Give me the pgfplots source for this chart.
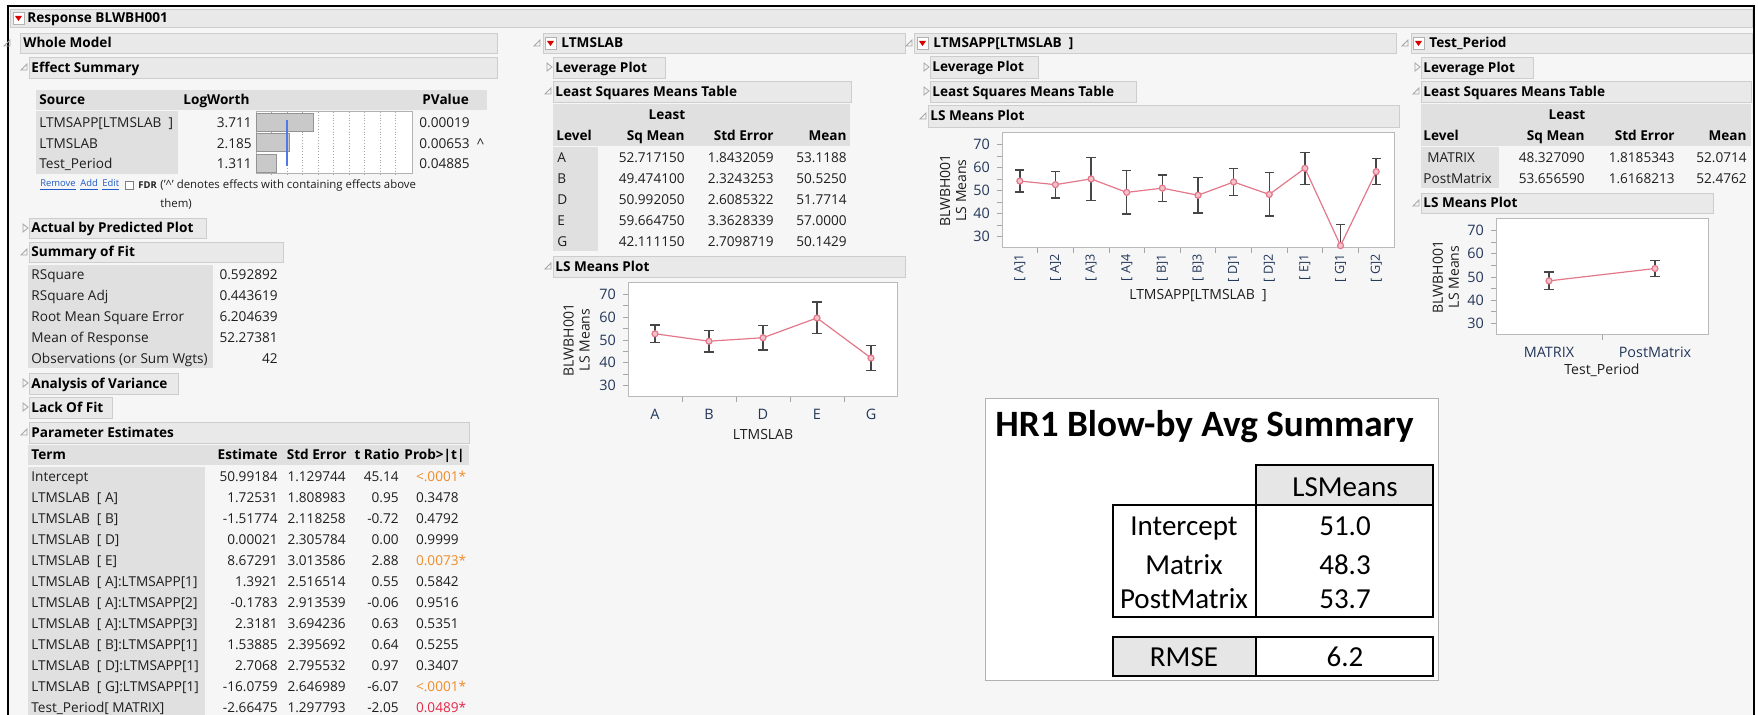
\documentclass[border=0pt]{standalone}
\usepackage{pgfplots}
\pgfplotsset{compat=1.18}
\usepackage{fontspec}
\setmainfont{Open Sans}
\newfontfamily\calibri{Carlito}
\definecolor{bgc}{RGB}{246,246,246}
\definecolor{barfill}{RGB}{233,233,233}
\definecolor{barline}{RGB}{205,205,205}
\definecolor{cellc}{RGB}{224,224,224}
\definecolor{txtc}{RGB}{30,30,30}
\definecolor{navy}{RGB}{35,55,90}
\definecolor{pinkl}{RGB}{228,120,138}
\definecolor{errc}{RGB}{70,70,70}
\definecolor{pvorange}{RGB}{240,140,40}
\definecolor{pvred}{RGB}{230,40,70}
\definecolor{linkblue}{RGB}{30,90,200}
\definecolor{xlgray}{RGB}{231,230,230}
\newcommand\bt{\fontsize{6.8}{8}\selectfont}
\newcommand\st{\fontsize{4.7}{6}\selectfont}
\newcommand\PVo[1]{\textcolor{pvorange}{#1}\rlap{\textcolor{pvorange}{*}}}
\newcommand\PVr[1]{\textcolor{pvred}{#1}\rlap{\textcolor{pvred}{*}}}
\newcommand\redicon[2]{\draw[gray!60, fill=white] (#1,#2-6) rectangle (#1+11,#2+6); \fill[red!85!black] (#1+2,#2-2) -- (#1+9,#2-2) -- (#1+5.5,#2+3) -- cycle;}
\newcommand\otri[2]{\draw[gray!70] (#1+6,#2-3) -- (#1+6,#2+3) -- (#1,#2+3) -- cycle;}
\newcommand\ctri[2]{\draw[gray!70] (#1,#2-4) -- (#1+5,#2) -- (#1,#2+4) -- cycle;}
\newcommand\secbar[6]{\draw[barline, fill=barfill] (#1,#2) rectangle (#3,#4); \node[L,H] at (#5,{(#2+#4)/2}) {#6};}
\pgfplotsset{lsplot/.style={scale only axis, anchor=north west, ymin=25, ymax=75,
  ytick={30,40,50,60,70}, minor ytick={35,45,55,65},
  tick align=outside, tick pos=left, major tick length=2.5pt, minor tick length=2.5pt,
  tick style={draw=gray!70, line width=0.4pt},
  axis line style={draw=gray!55, line width=0.5pt},
  axis background/.style={fill=white},
  ticklabel style={font=\fontsize{7.2}{8}\selectfont, text=navy},
  /pgf/number format/assume math mode=true,
  label style={font=\fontsize{7}{8}\selectfont, text=txtc},
  ylabel={BLWBH001\\LS Means}, ylabel style={align=center},
  xticklabels={}, extra x tick style={tick style={draw=none}},
}}
\pgfplotsset{lsline/.style={pinkl, line width=0.6pt, mark=*, mark size=1.5pt, mark options={fill=pinkl!45, draw=pinkl},
  error bars/.cd, y dir=both, y explicit, error bar style={draw=errc, line width=0.7pt},
  error mark options={rotate=90, draw=errc, line width=0.7pt, mark size=2.3pt}}}
\begin{document}
\begin{tikzpicture}
\begin{scope}[x=0.5pt,y=-0.5pt,
  t/.style={inner sep=0pt, font=\bt, text=txtc, text height=4.9pt, text depth=0pt},
  L/.style={t, anchor=west}, R/.style={t, anchor=east}, C/.style={t, anchor=center},
  H/.style={font=\bt\bfseries, text=black}]
\useasboundingbox (0,0) rectangle (1758,715);
\fill[white] (0,0) rectangle (1758,715);
\fill[bgc] (8,6) rectangle (1754,715);
\draw[black, line width=1pt] (8,715) -- (8,6) -- (1754,6) -- (1754,715);
% top bar
\draw[barline, fill=barfill] (10,9) rectangle (1752,27);
\redicon{13}{18}
\node[L,H] at (27,18) {Response BLWBH001};
% ---------- left column
\otri{4}{43}
\secbar{20}{33}{497}{53}{23}{Whole Model}
\otri{21}{67}
\secbar{29}{57}{497}{78}{31}{Effect Summary}
\fill[cellc] (36,90) rectangle (487,110);
\fill[cellc] (36,111) rectangle (178,174);
\node[L,H] at (39,100) {Source};
\node[L,H] at (183,100) {LogWorth};
\node[L,H] at (422,100) {PValue};
\node[L] at (39,123) {LTMSAPP[LTMSLAB\ \ ]};
\node[L] at (39,144) {LTMSLAB};
\node[L] at (39,164) {Test\_Period};
\node[R] at (252,123) {3.711};
\node[R] at (252,144) {2.185};
\node[R] at (252,164) {1.311};
\node[L] at (419,123) {0.00019};
\node[L] at (419,144) {0.00653\ \ \textasciicircum};
\node[L] at (419,164) {0.04885};
\node[anchor=west, inner sep=0pt, font=\st, text=linkblue] at (40,185) {\underline{Remove}};
\node[anchor=west, inner sep=0pt, font=\st, text=linkblue] at (80,185) {\underline{Add}};
\node[anchor=west, inner sep=0pt, font=\st, text=linkblue] at (102,185) {\underline{Edit}};
\draw[gray, fill=white] (125,181) rectangle (133,189);
\node[anchor=west, inner sep=0pt, font=\st\bfseries, text=txtc] at (138,185) {FDR};
\node[anchor=west, inner sep=0pt, font=\fontsize{5.7}{7}\selectfont, text=txtc] at (160,186) {('\textasciicircum' denotes effects with containing effects above};
\node[anchor=west, inner sep=0pt, font=\fontsize{5.7}{7}\selectfont, text=txtc] at (160,204) {them)};
\ctri{23}{228}
\secbar{29}{218}{206}{238}{31}{Actual by Predicted Plot}
\otri{21}{252}
\secbar{29}{242}{283}{262}{31}{Summary of Fit}
\fill[cellc] (28,265) rectangle (213,368);
\node[L] at (31,275) {RSquare};
\node[L] at (31,296) {RSquare Adj};
\node[L] at (31,317) {Root Mean Square Error};
\node[L] at (31,338) {Mean of Response};
\node[L] at (31,359) {Observations (or Sum Wgts)};
\node[R] at (278,275) {0.592892};
\node[R] at (278,296) {0.443619};
\node[R] at (278,317) {6.204639};
\node[R] at (278,338) {52.27381};
\node[R] at (278,359) {42};
\ctri{23}{383}
\secbar{29}{373}{178}{394}{31}{Analysis of Variance}
\ctri{23}{407}
\secbar{29}{397}{112}{418}{31}{Lack Of Fit}
\otri{21}{432}
\secbar{29}{422}{469}{443}{31}{Parameter Estimates}
\fill[cellc] (28,445) rectangle (469,465);
\fill[cellc] (28,467) rectangle (205,715);
\node[L,H] at (31,455) {Term};
\node[R,H] at (278,455) {Estimate};
\node[R,H] at (347,455) {Std Error};
\node[R,H] at (400,455) {t Ratio};
\node[R,H] at (465,455) {Prob>|t|};
\foreach \tm/\es/\se/\tr/\pv [count=\k from 0] in {
  Intercept/50.99184/1.129744/45.14/\PVo{<.0001},
  LTMSLAB\ \ [ A]/1.72531/1.808983/0.95/0.3478,
  LTMSLAB\ \ [ B]/-1.51774/2.118258/-0.72/0.4792,
  LTMSLAB\ \ [ D]/0.00021/2.305784/0.00/0.9999,
  LTMSLAB\ \ [ E]/8.67291/3.013586/2.88/\PVo{0.0073},
  LTMSLAB\ \ [ A]:LTMSAPP[1]/1.3921/2.516514/0.55/0.5842,
  LTMSLAB\ \ [ A]:LTMSAPP[2]/-0.1783/2.913539/-0.06/0.9516,
  LTMSLAB\ \ [ A]:LTMSAPP[3]/2.3181/3.694236/0.63/0.5351,
  LTMSLAB\ \ [ B]:LTMSAPP[1]/1.53885/2.395692/0.64/0.5255,
  LTMSLAB\ \ [ D]:LTMSAPP[1]/2.7068/2.795532/0.97/0.3407,
  LTMSLAB\ \ [ G]:LTMSAPP[1]/-16.0759/2.646989/-6.07/\PVo{<.0001},
  Test\_Period[ MATRIX]/-2.66475/1.297793/-2.05/\PVr{0.0489}}{
  \pgfmathsetmacro\yy{477+21*\k}
  \node[L] at (31,\yy) {\tm};
  \node[R] at (278,\yy) {\es};
  \node[R] at (346,\yy) {\se};
  \node[R] at (399,\yy) {\tr};
  \node[R] at (459,\yy) {\pv};
}
% ---------- LTMSLAB column
\otri{534}{43}
\draw[barline, fill=barfill] (543,33) rectangle (905,53);
\redicon{545}{43}
\node[L,H] at (561,43) {LTMSLAB};
\ctri{547}{67}
\secbar{553}{57}{665}{78}{555}{Leverage Plot}
\otri{545}{91}
\secbar{553}{81}{851}{102}{555}{Least Squares Means Table}
\fill[cellc] (553,104) rectangle (850,146);
\fill[cellc] (553,147) rectangle (598,251);
\node[C,H] at (667,115) {Least};
\node[L,H] at (556,136) {Level};
\node[R,H] at (685,136) {Sq Mean};
\node[R,H] at (774,136) {Std Error};
\node[R,H] at (847,136) {Mean};
\foreach \lv/\a/\b/\c [count=\k from 0] in {A/52.717150/1.8432059/53.1188, B/49.474100/2.3243253/50.5250, D/50.992050/2.6085322/51.7714, E/59.664750/3.3628339/57.0000, G/42.111150/2.7098719/50.1429}{
  \pgfmathsetmacro\yy{158+21*\k}
  \node[L] at (557,\yy) {\lv};
  \node[R] at (685,\yy) {\a};
  \node[R] at (774,\yy) {\b};
  \node[R] at (847,\yy) {\c};
}
\otri{545}{266}
\secbar{553}{256}{905}{277}{555}{LS Means Plot}
% ---------- LTMSAPP column
\otri{906}{43}
\draw[barline, fill=barfill] (914,33) rectangle (1396,53);
\redicon{917}{43}
\node[L,H] at (933,43) {LTMSAPP[LTMSLAB\ \ ]};
\ctri{924}{67}
\secbar{930}{56}{1038}{78}{932}{Leverage Plot}
\ctri{924}{91}
\secbar{930}{81}{1136}{102}{932}{Least Squares Means Table}
\otri{920}{116}
\secbar{928}{105}{1399}{127}{930}{LS Means Plot}
% ---------- Test_Period column
\otri{1402}{43}
\draw[barline, fill=barfill] (1411,33) rectangle (1752,53);
\redicon{1413}{43}
\node[L,H] at (1429,43) {Test\_Period};
\ctri{1415}{67}
\secbar{1421}{57}{1533}{78}{1423}{Leverage Plot}
\otri{1413}{91}
\secbar{1421}{81}{1751}{102}{1423}{Least Squares Means Table}
\fill[cellc] (1421,104) rectangle (1751,146);
\fill[cellc] (1421,147) rectangle (1499,188);
\node[C,H] at (1567,115) {Least};
\node[L,H] at (1423,136) {Level};
\node[R,H] at (1585,136) {Sq Mean};
\node[R,H] at (1675,136) {Std Error};
\node[R,H] at (1747,136) {Mean};
\node[L] at (1427,158) {MATRIX};
\node[L] at (1423,179) {PostMatrix};
\node[R] at (1585,158) {48.327090};
\node[R] at (1585,179) {53.656590};
\node[R] at (1675,158) {1.8185343};
\node[R] at (1675,179) {1.6168213};
\node[R] at (1747,158) {52.0714};
\node[R] at (1747,179) {52.4762};
\otri{1413}{203}
\secbar{1421}{193}{1713}{213}{1423}{LS Means Plot}
% ---------- summary box
\draw[gray!60, fill=white] (985,398) rectangle (1438,680);
\node[anchor=base west, inner sep=0pt, font=\calibri\bfseries\fontsize{18.6}{21}\selectfont] at (995,437) {HR1 Blow-by Avg Summary};
\begin{scope}[sb/.style={inner sep=0pt, font=\calibri\fontsize{14.5}{16}\selectfont, text height=9.3pt, text depth=0pt, anchor=center}]
\draw[line width=1pt, fill=xlgray] (1256,465) rectangle (1433,505);
\node[sb] at (1345,487) {LSMeans};
\draw[line width=1pt] (1113,505) rectangle (1433,617);
\draw[line width=1pt] (1256,505) -- (1256,617);
\node[sb] at (1184,526) {Intercept};
\node[sb] at (1184,565.5) {Matrix};
\node[sb] at (1184,599) {PostMatrix};
\node[sb] at (1345,526) {51.0};
\node[sb] at (1345,565.5) {48.3};
\node[sb] at (1345,599) {53.7};
\fill[xlgray] (1113,637) rectangle (1256,676);
\draw[line width=1pt] (1113,637) rectangle (1433,676);
\draw[line width=1pt] (1256,637) -- (1256,676);
\node[sb] at (1184,657.5) {RMSE};
\node[sb] at (1345,657.5) {6.2};
\end{scope}
\end{scope}
% ---------- effect summary logworth bars
\begin{axis}[at={(128pt,-56pt)}, anchor=north west, scale only axis, width=78pt, height=31pt,
  xmin=0, xmax=10.06, ymin=0.5, ymax=3.5, y dir=reverse,
  axis line style={draw=gray!60, line width=0.5pt}, axis background/.style={fill=white},
  xtick={1,...,9}, xticklabels={}, ytick=\empty, major tick length=0pt,
  xmajorgrids, major x grid style={densely dotted, gray!70, line width=0.4pt}]
\addplot[xbar, bar width=9pt, fill=gray!42, draw=gray!85, line width=0.5pt] coordinates {(3.711,1) (2.185,2) (1.311,3)};
\addplot[draw={rgb,255:red,80;green,120;blue,230}, line width=0.8pt] coordinates {(2,0.88) (2,3.1)};
\end{axis}
% ---------- LS means plot LTMSLAB
\begin{axis}[lsplot, at={(314pt,-141.5pt)}, width=135pt, height=57pt, xmin=-0.5, xmax=4.5,
  xtick={0.5,1.5,2.5,3.5}, extra x ticks={0,1,2,3,4}, extra x tick labels={A,B,D,E,G},
  xlabel={LTMSLAB}, xlabel style={at={(axis description cs:0.5,-0.325)}, anchor=center},
  ylabel style={at={(axis description cs:-0.19,0.5)}, anchor=center}]
\addplot[lsline] coordinates {(0,52.71715) +- (0,3.80) (1,49.4741) +- (0,4.79) (2,50.99205) +- (0,5.37) (3,59.66475) +- (0,6.93) (4,42.11115) +- (0,5.58)};
\end{axis}
% ---------- LS means plot LTMSAPP[LTMSLAB]
\begin{axis}[lsplot, at={(501pt,-66.5pt)}, width=196pt, height=57.5pt, xmin=-0.5, xmax=10.5,
  xtick={0.5,1.5,...,9.5}, extra x ticks={0,1,...,10},
  extra x tick labels={{[ A]1},{[ A]2},{[ A]3},{[ A]4},{[ B]1},{[ B]3},{[ D]1},{[ D]2},{[ E]1},{[ G]1},{[ G]2}},
  extra x tick style={tick style={draw=none}, tick label style={rotate=90, anchor=east, inner sep=0.5pt, font=\fontsize{6.3}{8}\selectfont}},
  xlabel={LTMSAPP[LTMSLAB\ \ ]}, xlabel style={at={(axis description cs:0.5,-0.41)}, anchor=center},
  ylabel style={at={(axis description cs:-0.125,0.5)}, anchor=center}]
\addplot[lsline] coordinates {(0,54.109) +- (0,4.77) (1,52.539) +- (0,5.85) (2,55.035) +- (0,9.4) (3,49.185) +- (0,9.4) (4,51.013) +- (0,5.7) (5,47.935) +- (0,7.8) (6,53.699) +- (0,5.9) (7,48.285) +- (0,9.45) (8,59.665) +- (0,6.93) (9,26.035) +- (0,9.3) (10,58.187) +- (0,5.65)};
\end{axis}
% ---------- LS means plot Test_Period
\begin{axis}[lsplot, at={(748pt,-109.5pt)}, width=106pt, height=58pt, xmin=-0.5, xmax=1.5,
  xtick={0.5}, extra x ticks={0,1}, extra x tick labels={MATRIX,PostMatrix},
  xlabel={Test\_Period}, xlabel style={at={(axis description cs:0.5,-0.30)}, anchor=center},
  ylabel style={at={(axis description cs:-0.236,0.5)}, anchor=center}]
\addplot[lsline] coordinates {(0,48.32709) +- (0,3.75) (1,53.65659) +- (0,3.33)};
\end{axis}
\end{tikzpicture}
\end{document}
